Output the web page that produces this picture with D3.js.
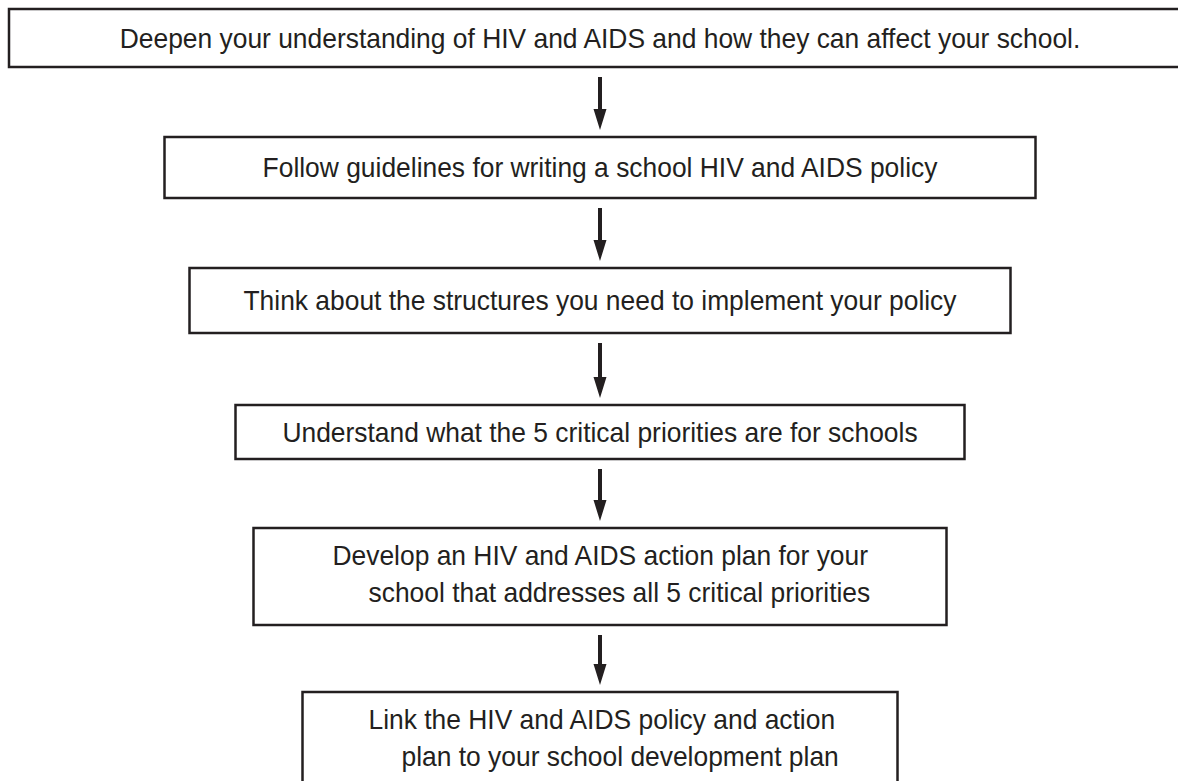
<!DOCTYPE html>
<html lang="en">
<head>
  <meta charset="UTF-8">
  <title>School HIV and AIDS policy steps</title>
  <script src="https://d3js.org/d3.v7.min.js"></script>
  <style>
    body { margin: 0; background: #fff; }
    text {
      font-family: "Liberation Sans", Arial, Helvetica, sans-serif;
      font-size: 28px;
      fill: #231f20;
    }
  </style>
</head>
<body>

<svg width="1178" height="781"></svg>

<script>
  // Text of each step, one array per step (lines)
  var step1 = ["Deepen your understanding of HIV and AIDS and how they can affect your school."];
  var step2 = ["Follow guidelines for writing a school HIV and AIDS policy"];
  var step3 = ["Think about the structures you need to implement your policy"];
  var step4 = ["Understand what the 5 critical priorities are for schools"];
  var step5 = ["Develop an HIV and AIDS action plan for your", "school that addresses all 5 critical priorities"];
  var step6 = ["Link the HIV and AIDS policy and action", "plan to your school development plan"];
  var steps = [step1, step2, step3, step4, step5, step6];

  // Layout of the boxes (top, height, width) - all centred on the same axis
  var boxTop = [9, 137, 268, 405, 528, 692];
  var boxHeight = [58, 61, 65, 54, 97, 110];
  var boxWidth = [1182, 871, 821, 729, 693, 595];
  // left offset of each text line inside multi-line boxes (null = centred)
  var lineOffset = [[null], [null], [null], [null], [79, 115], [66, 99]];

  var svg = d3.select("svg"),
      width = +svg.attr("width"),
      height = +svg.attr("height");

  var cx = 600;
  var ink = "#231f20";
  var squeeze = 0.943; // the type in the original is slightly condensed

  var boxes = steps.map(function(lines, i) {
    return {
      lines: lines,
      x: cx - boxWidth[i] / 2,
      y: boxTop[i],
      w: boxWidth[i],
      h: boxHeight[i],
      offs: lineOffset[i]
    };
  });

  // boxes
  var g = svg.selectAll("g.step")
    .data(boxes)
    .enter().append("g")
      .attr("class", "step");

  g.append("rect")
    .attr("x", function(d) { return d.x; })
    .attr("y", function(d) { return d.y; })
    .attr("width", function(d) { return d.w; })
    .attr("height", function(d) { return d.h; })
    .attr("fill", "#fff")
    .attr("stroke", ink)
    .attr("stroke-width", 2.5);

  g.each(function(d) {
    var sel = d3.select(this);
    d.lines.forEach(function(line, j) {
      var t = sel.append("text").text(line);
      var tx, ty;
      if (d.offs[j] === null) {
        tx = cx; ty = d.y + d.h / 2 + 9.5;
        t.attr("text-anchor", "middle");
      } else {
        tx = d.x + d.offs[j]; ty = d.y + 37 + j * 37;
      }
      t.attr("transform", "translate(" + tx + "," + ty + ") scale(" + squeeze + ",1)");
    });
  });

  // arrows between consecutive boxes
  var arrows = d3.pairs(boxes).map(function(p) {
    return { y0: p[0].y + p[0].h + 10, y1: p[1].y - 7 };
  });

  var arrow = function(d) {
    var headLen = 21, headW = 6.5, shaft = 2;
    var yh = d.y1 - headLen;
    return d3.line()([
      [cx - shaft, d.y0], [cx + shaft, d.y0], [cx + shaft, yh],
      [cx + headW, yh], [cx, d.y1], [cx - headW, yh],
      [cx - shaft, yh]
    ]) + "Z";
  };

  svg.selectAll("path.arrow")
    .data(arrows)
    .enter().append("path")
      .attr("class", "arrow")
      .attr("d", arrow)
      .attr("fill", ink);
</script>

</body>
</html>
